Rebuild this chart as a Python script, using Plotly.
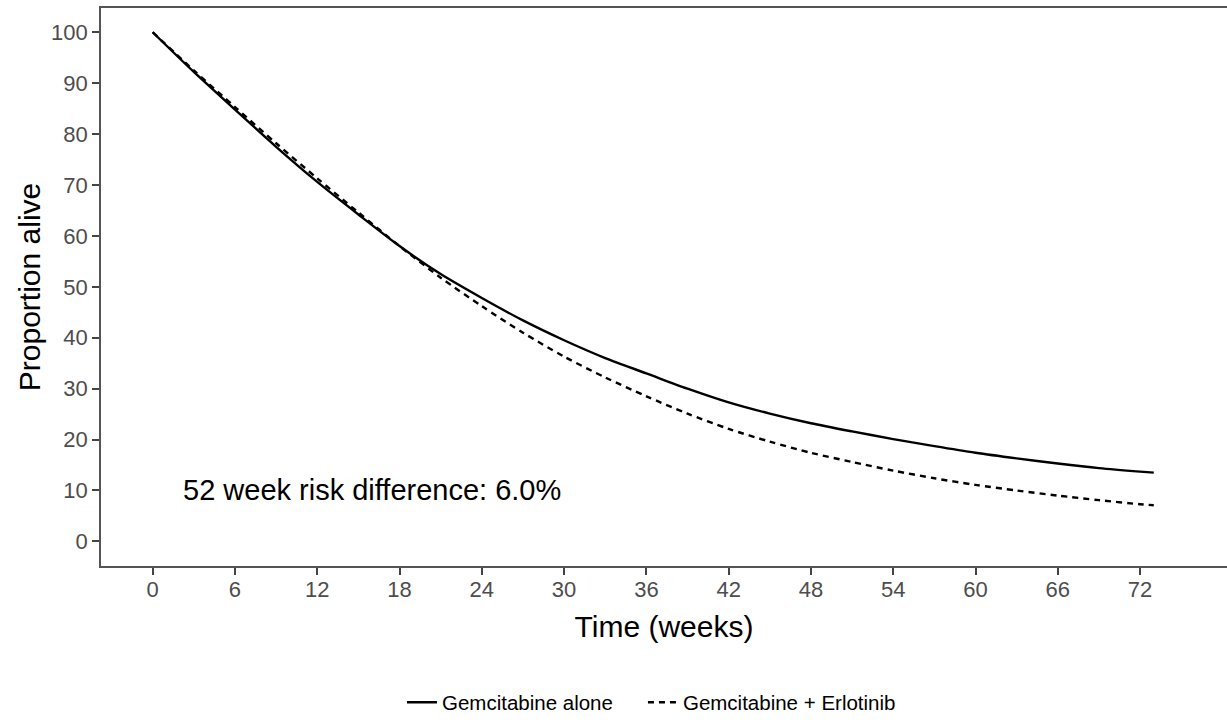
import plotly.graph_objects as go

weeks = [0, 3, 6, 9, 12, 15, 18, 21, 24, 27, 30, 33, 36, 39, 42, 45, 48, 51, 54, 57, 60, 63, 66, 69, 72, 73]
gem_alone = [100, 92.2, 84.8, 77.5, 70.6, 64.2, 58.0, 52.5, 47.8, 43.4, 39.5, 36.0, 33.0, 30.0, 27.3,
             25.1, 23.2, 21.6, 20.1, 18.7, 17.4, 16.3, 15.3, 14.4, 13.7, 13.5]
gem_erlo = [100, 92.5, 85.3, 78.2, 71.3, 64.6, 58.0, 51.8, 46.2, 41.0, 36.3, 32.2, 28.5, 25.1, 22.1,
            19.6, 17.4, 15.6, 13.9, 12.4, 11.1, 10.0, 9.0, 8.1, 7.3, 7.1]
x_ticks = list(range(0, 73, 6))
y_ticks = list(range(0, 101, 10))
annotation_text = "52 week risk difference: 6.0%"

FONT = "Arial, 'Liberation Sans', sans-serif"

fig = go.Figure()
fig.add_trace(go.Scatter(x=weeks, y=gem_alone, mode="lines", name="Gemcitabine alone", legend="legend",
                         line=dict(color="black", width=2.4, shape="spline", smoothing=0.8)))
fig.add_trace(go.Scatter(x=weeks, y=gem_erlo, mode="lines", name="Gemcitabine + Erlotinib", legend="legend2",
                         line=dict(color="black", width=2.4, dash="6px,5px", shape="spline", smoothing=0.8)))

fig.add_annotation(x=2.06, y=10, text=annotation_text, showarrow=False, xanchor="left",
                   yanchor="middle", font=dict(size=29, color="black", family=FONT))

legend_common = dict(orientation="h", yanchor="middle", y=-0.2446,
                     font=dict(size=20.5, color="black"), itemwidth=30,
                     bgcolor="rgba(0,0,0,0)", borderwidth=0)

fig.update_layout(
    width=1227, height=723,
    margin=dict(l=101, r=0, t=8, b=155),
    plot_bgcolor="white", paper_bgcolor="white",
    font=dict(family=FONT),
    showlegend=True,
    legend=dict(x=0.2673, xanchor="left", **legend_common),
    legend2=dict(x=0.4813, xanchor="left", **legend_common),
    xaxis=dict(range=[-3.77, 78.34], tickvals=x_ticks, showgrid=False, zeroline=False,
               showline=True, linecolor="#555555", linewidth=1.6, mirror=True,
               ticks="outside", ticklen=7, tickwidth=1.6, tickcolor="#444444",
               ticklabelstandoff=-4,
               tickfont=dict(size=22, color="#4d4d4d"),
               title=dict(text="Time (weeks)", font=dict(size=30, color="black"), standoff=15)),
    yaxis=dict(range=[-4.83, 104.76], tickvals=y_ticks, showgrid=False, zeroline=False,
               showline=True, linecolor="#555555", linewidth=1.6,
               ticks="outside", ticklen=7, tickwidth=1.6, tickcolor="#444444",
               tickfont=dict(size=22, color="#4d4d4d"),
               title=dict(text="Proportion alive", font=dict(size=30, color="black"), standoff=2)),
)

fig.write_html("out.html", config={"displayModeBar": False},
               post_script="document.body.style.margin='0px';document.body.style.overflow='hidden';")
